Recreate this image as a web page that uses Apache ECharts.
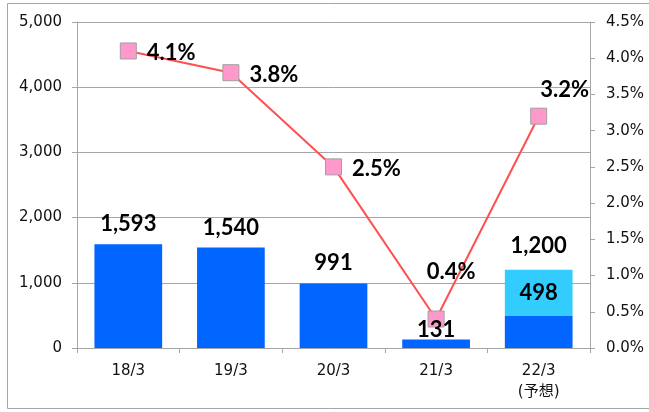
<!DOCTYPE html>
<html>
<head>
<meta charset="utf-8">
<script src="https://cdn.jsdelivr.net/npm/echarts@6/dist/echarts.min.js"></script>
<style>
  html, body { margin: 0; padding: 0; background: #fff; }
  #chart { width: 649px; height: 412px; }
</style>
</head>
<body>
<div id="chart"></div>
<script>
const categories = ['18/3', '19/3', '20/3', '21/3', '22/3\n(予想)'];
const baseValues = [1593, 1540, 991, 131, 498];
const extraValues = [0, 0, 0, 0, 702];
const rateValues = [4.1, 3.8, 2.5, 0.4, 3.2];

const AXIS_FONT = '"DejaVu Sans", "Noto Sans CJK JP", sans-serif';
const LABEL_FONT = 'Lato, "Noto Sans CJK JP", sans-serif';
const totals = baseValues.map((v, i) => v + extraValues[i]);
const fmt = n => n.toLocaleString('en-US');

const chart = echarts.init(document.getElementById('chart'));

const valueLabel = {
    show: true,
    fontFamily: LABEL_FONT,
    fontSize: 22,
    fontWeight: 'bold',
    color: '#000'
};

chart.setOption({
    animation: false,
    textStyle: { fontFamily: AXIS_FONT },
    graphic: [{
        type: 'rect',
        shape: { x: 7.5, y: 3.5, width: 700, height: 405 },
        style: { fill: 'none', stroke: '#a6a6a6', lineWidth: 1 },
        z: -1
    }],
    grid: { left: 77, right: 59, top: 22, bottom: 64 },
    xAxis: {
        type: 'category',
        data: categories,
        axisLine: { lineStyle: { color: '#a6a6a6' } },
        axisTick: { show: true, length: 5, lineStyle: { color: '#a6a6a6' } },
        axisLabel: { color: '#111', fontSize: 15, margin: 13, lineHeight: 21 }
    },
    yAxis: [{
        type: 'value',
        min: 0, max: 5000, interval: 1000,
        axisLine: { show: true, lineStyle: { color: '#a6a6a6' } },
        axisTick: { show: true, length: 5, lineStyle: { color: '#a6a6a6' } },
        splitLine: { lineStyle: { color: '#a6a6a6' } },
        axisLabel: { color: '#111', fontSize: 15, margin: 15, formatter: v => fmt(v) }
    }, {
        type: 'value',
        min: 0, max: 4.5, interval: 0.5,
        axisLine: { show: true, lineStyle: { color: '#a6a6a6' } },
        axisTick: { show: true, length: 5, lineStyle: { color: '#a6a6a6' } },
        splitLine: { show: false },
        axisLabel: { color: '#111', fontSize: 15, margin: 16, formatter: v => v.toFixed(1) + '%' }
    }],
    series: [{
        name: 'base',
        type: 'bar',
        stack: 'sales',
        barWidth: '66%',
        data: baseValues,
        itemStyle: { color: '#0066ff' },
        z: 2
    }, {
        name: 'extra',
        type: 'bar',
        stack: 'sales',
        data: extraValues.map(v => v || '-'),
        itemStyle: { color: '#33ccff' },
        label: Object.assign({}, valueLabel, {
            position: 'inside',
            formatter: p => fmt(baseValues[p.dataIndex])
        }),
        z: 2
    }, {
        name: 'total',
        type: 'bar',
        stack: 'sales',
        data: totals.map((t, i) => ({
            value: 0,
            label: i === 3 ? { offset: [0, 10] } : (i === 4 ? { offset: [0, -4] } : {})
        })),
        itemStyle: { color: 'transparent' },
        label: Object.assign({}, valueLabel, {
            position: 'top',
            distance: 9,
            formatter: p => fmt(totals[p.dataIndex])
        }),
        z: 4
    }, {
        name: 'rate',
        type: 'line',
        yAxisIndex: 1,
        data: rateValues.map((v, i) => ({
            value: v,
            label: i === 3 ? { position: 'top', offset: [15, -18] } :
                   (i === 4 ? { position: 'top', offset: [26, 3] } : {})
        })),
        symbol: 'rect',
        symbolSize: 16,
        lineStyle: { color: '#ff4f4f', width: 2 },
        itemStyle: { color: '#ff99cc', borderColor: '#a0a0a0', borderWidth: 1 },
        label: Object.assign({}, valueLabel, {
            position: 'right',
            distance: 10,
            offset: [0, 2],
            formatter: p => p.value.toFixed(1) + '%'
        }),
        z: 3
    }]
});
</script>
</body>
</html>
